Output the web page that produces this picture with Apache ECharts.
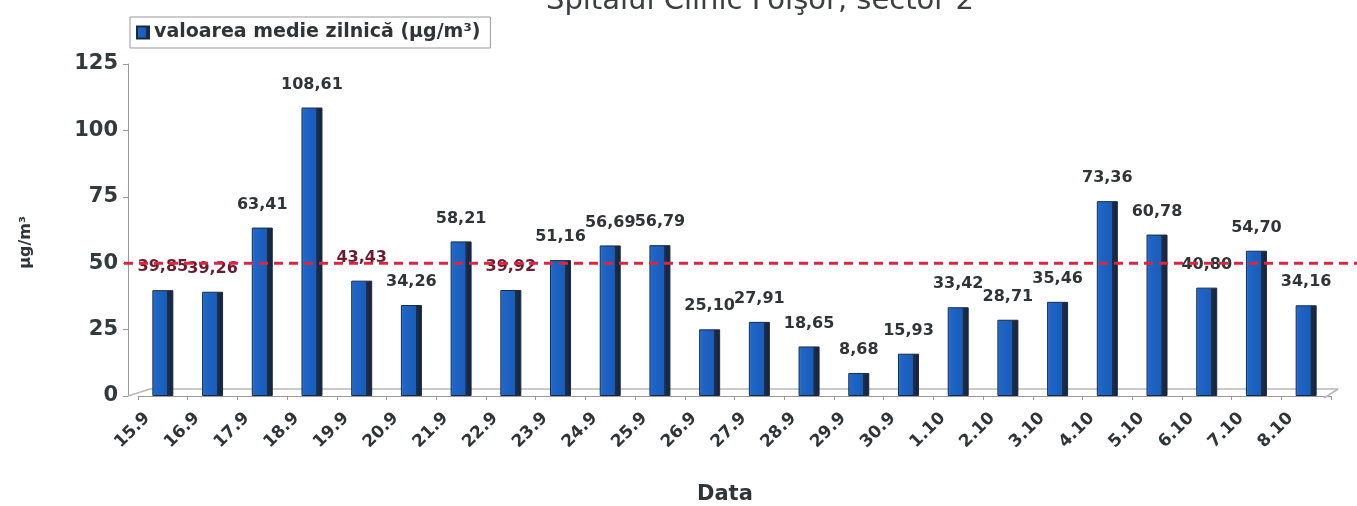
<!DOCTYPE html>
<html><head><meta charset="utf-8">
<script src="https://cdn.jsdelivr.net/npm/echarts@6/dist/echarts.min.js"></script>
<style>html,body{margin:0;padding:0;background:#fff}#c{width:1357px;height:506px}</style>
</head><body><div id="c"></div>
<script>
const categories = ['15.9','16.9','17.9','18.9','19.9','20.9','21.9','22.9','23.9','24.9','25.9','26.9','27.9','28.9','29.9','30.9','1.10','2.10','3.10','4.10','5.10','6.10','7.10','8.10'];
const dailyMean = [39.85,39.26,63.41,108.61,43.43,34.26,58.21,39.92,51.16,56.69,56.79,25.10,27.91,18.65,8.68,15.93,33.42,28.71,35.46,73.36,60.78,40.80,54.70,34.16];
const limitValue = 50;
const yTicks = [0,25,50,75,100,125];
const darkRedLabels = ['15.9','16.9','19.9','22.9'];
const seriesName = 'valoarea medie zilnică (µg/m³)';

const chart = echarts.init(document.getElementById('c'));
const font = 'DejaVu Sans, Verdana, sans-serif';
const txt = '#2e3437';
chart.setOption({
  animation:false,
  title:{text:'Spitalul Clinic Foişor, sector 2',left:541,top:-18,textStyle:{fontFamily:font,fontSize:29,fontWeight:'normal',color:'#3a4042'}},
  legend:{left:130,top:17,itemWidth:12,itemHeight:12,itemGap:6,icon:'rect',borderColor:'#999',borderWidth:1,padding:[6,10,6,6],
    textStyle:{fontFamily:font,fontSize:19,fontWeight:'bold',color:txt},data:[seriesName]},
  grid:{left:138,right:26,top:64,bottom:110},
  xAxis:{type:'category',data:categories,
    axisLine:{lineStyle:{color:'#999'}},axisTick:{show:true,length:4,lineStyle:{color:'#999'}},
    axisLabel:{rotate:45,fontFamily:font,fontSize:17,fontWeight:'bold',color:txt,margin:4,padding:[0,22,0,0]}},
  yAxis:{type:'value',min:0,max:125,interval:25,offset:10,
    axisLine:{show:true,lineStyle:{color:'#999'}},axisTick:{show:true,lineStyle:{color:'#999'}},
    splitLine:{show:false},
    axisLabel:{fontFamily:font,fontSize:21,fontWeight:'bold',color:'#333a3d',margin:10,formatter:v=>yTicks.includes(v)?String(v):''}},
  series:[{
    name:seriesName,type:'bar',barWidth:21,
    data:dailyMean.map((v,i)=>({value:v,label:darkRedLabels.includes(categories[i])?{color:'#6a1c2e'}:undefined})),
    itemStyle:{color:new echarts.graphic.LinearGradient(0,0,1,0,[
        {offset:0,color:'#3a86e0'},{offset:0.12,color:'#1e66c8'},{offset:0.7,color:'#1a5cb8'},
        {offset:0.72,color:'#1d2f4c'},{offset:1,color:'#15223a'}]),
      borderColor:'#1b2a44',borderWidth:1},
    label:{show:true,position:'top',distance:15,fontFamily:font,fontSize:16,fontWeight:'bold',color:txt,
      formatter:p=>p.value.toFixed(2).replace('.',',')}
  }]
});
const yLim = chart.convertToPixel({yAxisIndex:0}, limitValue);
const y0 = chart.convertToPixel({yAxisIndex:0}, 0);
const xLast = chart.convertToPixel({xAxisIndex:0}, categories[categories.length-1]);
chart.setOption({graphic:[
  {type:'line',silent:true,z:1,shape:{x1:150,y1:y0-7,x2:xLast+32,y2:y0-7},style:{stroke:'#b8b8b8',lineWidth:1.5}},
  {type:'line',silent:true,z:1,shape:{x1:128,y1:y0,x2:150,y2:y0-7},style:{stroke:'#b8b8b8',lineWidth:1.5}},
  {type:'line',silent:true,z:1,shape:{x1:xLast+32,y1:y0-7,x2:xLast+18,y2:y0+2},style:{stroke:'#b8b8b8',lineWidth:1.5}},
  {type:'line',silent:true,z:10,shape:{x1:124,y1:yLim,x2:1357,y2:yLim},style:{stroke:'#dc2640',lineWidth:3,lineDash:[9,6]}},
  {type:'text',silent:true,left:18,top:216,rotation:Math.PI/2,style:{text:'µg/m³',font:'bold 16px '+font,fill:txt}},
  {type:'text',silent:true,left:697,top:484,style:{text:'Data',font:'bold 21px '+font,fill:txt}}
]});
</script></body></html>
